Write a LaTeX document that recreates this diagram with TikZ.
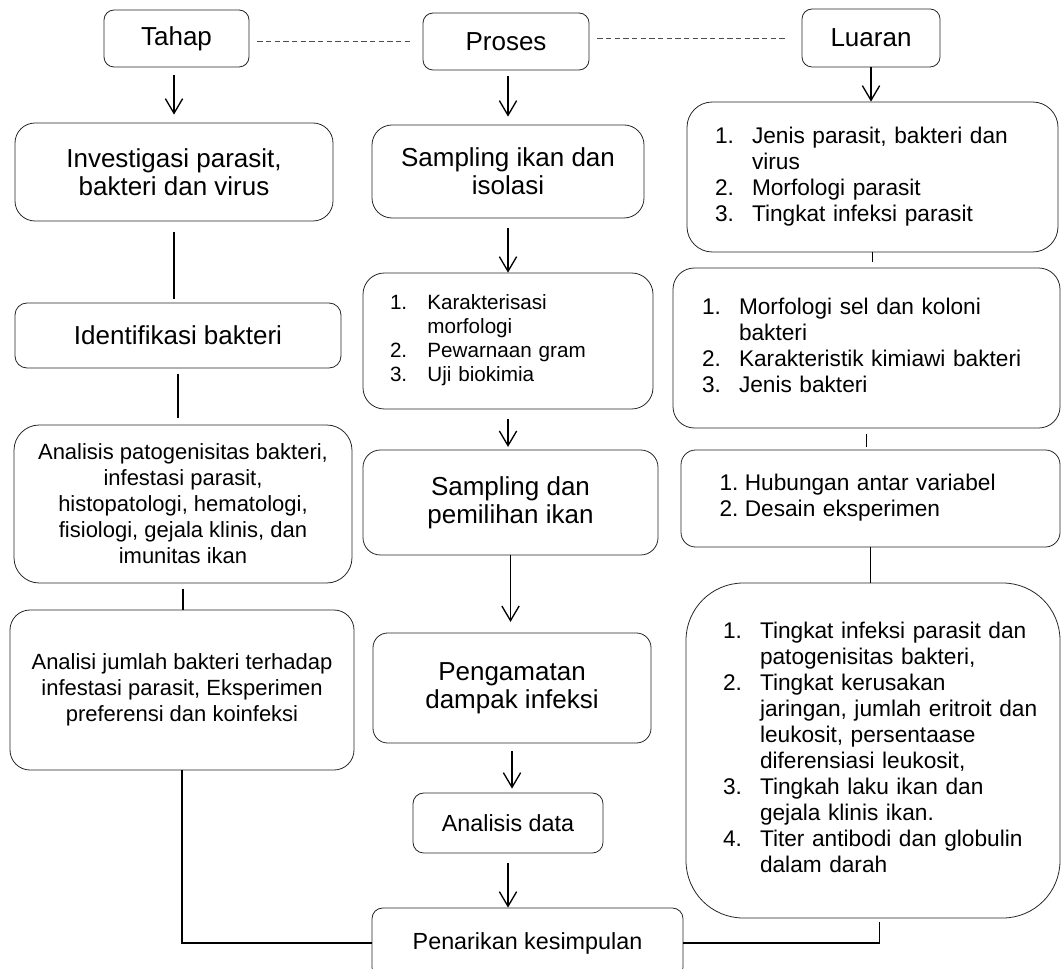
\documentclass[tikz,border=0pt]{standalone}
\usepackage{fontspec}
\setmainfont{Liberation Sans}
\usetikzlibrary{arrows.meta}
\newcommand{\tsize}{\fontsize{19.5pt}{21pt}\selectfont}
\newcommand{\ssize}{\fontsize{16.5pt}{19.5pt}\selectfont}
\newcommand{\lsize}{\fontsize{17pt}{19.5pt}\selectfont}
\newcommand{\ksize}{\fontsize{15.5pt}{18pt}\selectfont}
\newcommand{\psize}{\fontsize{17.5pt}{20pt}\selectfont}
\begin{document}
\begin{tikzpicture}[x=0.75pt,y=-0.75pt,
  box/.style={draw=black!85,line width=0.6pt,rounded corners=#1,align=center,inner sep=0pt},
  box/.default=8pt,
  arr/.style={-{Straight Barb[length=11pt,width=13pt]},line width=1pt},
  lin/.style={line width=1pt},
  dashline/.style={draw=black!70,line width=0.6pt,dash pattern=on 4pt off 2.5pt}]
\useasboundingbox (0,0) rectangle (1062,969);
\node[box=7.5pt,minimum width=108.75pt,minimum height=42.75pt,font=\tsize] (tahap) at (176.5,38.5) {Tahap};
\node[box=7.5pt,minimum width=124.5pt,minimum height=42.75pt,font=\tsize] (proses) at (506,41.5) {Proses};
\node[box=7.5pt,minimum width=103.5pt,minimum height=43.5pt,font=\tsize] (luaran) at (871,38) {Luaran};
\draw[dashline,shorten <=6pt,shorten >=8pt] (tahap.east |- proses.west) -- (proses.west);
\draw[dashline,shorten <=6pt,shorten >=11pt] (proses.east |- luaran.west) -- (luaran.west);

\node[box=15pt,minimum width=238.5pt,minimum height=73.5pt,font=\tsize] (invest) at (174,172) {Investigasi parasit,\\bakteri dan virus};
\node[box=9pt,minimum width=244.5pt,minimum height=48.75pt,font=\tsize] (ident) at (178,335.5) {Identifikasi bakteri};
\node[box=19pt,minimum width=253.5pt,minimum height=118.5pt,font=\ssize] (patogen) at (183,504) {Analisis patogenisitas bakteri,\\infestasi parasit,\\histopatologi, hematologi,\\fisiologi, gejala klinis, dan\\imunitas ikan};
\node[box=15pt,minimum width=258pt,minimum height=120pt,font=\ssize] (jumlah) at (182,690) {Analisi jumlah bakteri terhadap\\infestasi parasit, Eksperimen\\preferensi dan koinfeksi};

\node[box=15pt,minimum width=204pt,minimum height=69.75pt,font=\tsize] (sampling) at (508,171.5) {Sampling ikan dan\\isolasi};
\node[box=16pt,text width=177pt,inner xsep=20.25pt,minimum height=102pt,align=left,font=\ksize] (karakter) at (508,341) {%
\begin{tabular}{@{}p{28pt}@{}l@{}}1.&Karakterisasi\\&morfologi\\2.&Pewarnaan gram\\3.&Uji biokimia\end{tabular}};
\node[box=13pt,minimum width=221.25pt,minimum height=78.75pt,font=\tsize] (pemilihan) at (510.5,502.5) {Sampling dan\\pemilihan ikan};
\node[box=11pt,minimum width=208.5pt,minimum height=82.5pt,font=\tsize] (amat) at (512,688) {Pengamatan\\dampak infeksi};
\node[box=8pt,minimum width=142.5pt,minimum height=45pt,font=\psize] (data) at (508,823) {Analisis data};
\node[box=8pt,minimum width=233.25pt,minimum height=52.5pt,font=\psize] (tarik) at (527.5,943) {Penarikan kesimpulan};

\node[box=19pt,text width=236.25pt,inner xsep=21pt,minimum height=112.5pt,align=left,font=\lsize] (luar1) at (872.5,177) {%
\begin{tabular}{@{}p{27.75pt}@{}l@{}}1.&Jenis parasit, bakteri dan\\&virus\\2.&Morfologi parasit\\3.&Tingkat infeksi parasit\end{tabular}};
\node[box=16pt,text width=246.75pt,inner xsep=21.75pt,minimum height=120pt,align=left,font=\lsize] (luar2) at (866.5,348) {%
\begin{tabular}{@{}p{27.75pt}@{}l@{}}1.&Morfologi sel dan koloni\\&bakteri\\2.&Karakteristik kimiawi bakteri\\3.&Jenis bakteri\end{tabular}};
\node[box=11pt,text width=226.5pt,inner xsep=28.875pt,minimum height=72.75pt,align=left,font=\lsize] (luar3) at (870.5,498.5) {%
\begin{tabular}{@{}p{19pt}@{}l@{}}1.&Hubungan antar variabel\\2.&Desain eksperimen\end{tabular}};
\node[box=43pt,text width=225pt,inner xsep=27.75pt,minimum height=251.25pt,align=left,font=\lsize] (luar4) at (873,750.5) {%
\begin{tabular}{@{}p{27.75pt}@{}l@{}}1.&Tingkat infeksi parasit dan\\&patogenisitas bakteri,\\2.&Tingkat kerusakan\\&jaringan, jumlah eritroit dan\\&leukosit, persentaase\\&diferensiasi leukosit,\\3.&Tingkah laku ikan dan\\&gejala klinis ikan.\\4.&Titer antibodi dan globulin\\&dalam darah\end{tabular}};

\draw[arr,shorten <=6pt,shorten >=6pt] (invest.north |- tahap.south) -- (invest.north);
\draw[arr,shorten <=4pt,shorten >=6pt] (sampling.north |- proses.south) -- (sampling.north);
\draw[arr] (luaran.south) -- (luaran.south |- luar1.north);
\draw[arr,shorten <=7pt] (sampling.south) -- (karakter.north);
\draw[arr,shorten <=7pt,shorten >=2pt] (karakter.south) -- (karakter.south |- pemilihan.north);
\draw[arr,shorten >=8pt] (pemilihan.south) -- (pemilihan.south |- amat.north);
\draw[arr,shorten <=6pt,shorten >=3pt] (amat.south) -- (amat.south |- data.north);
\draw[arr,shorten <=7pt] (data.south) -- (data.south |- tarik.north);

\draw[lin,shorten <=8pt,shorten >=3pt] (invest.south) -- (invest.south |- ident.north);
\draw[lin,shorten <=4pt,shorten >=5pt] (ident.south) -- (ident.south |- patogen.north);
\draw[lin,shorten <=4pt] (patogen.south) -- (patogen.south |- jumlah.north);
\draw[lin] (jumlah.south) |- (tarik.west);
\draw[lin,shorten >=4pt] (luar1.south) -- (luar1.south |- luar2.north);
\draw[lin,shorten <=4pt,shorten >=2pt] (luar2.south) -- (luar2.south |- luar3.north);
\draw[lin] (luar3.south) -- (luar3.south |- luar4.north);
\draw[lin,shorten <=3pt] ([xshift=5pt]luar4.south) |- (tarik.east);
\end{tikzpicture}
\end{document}
